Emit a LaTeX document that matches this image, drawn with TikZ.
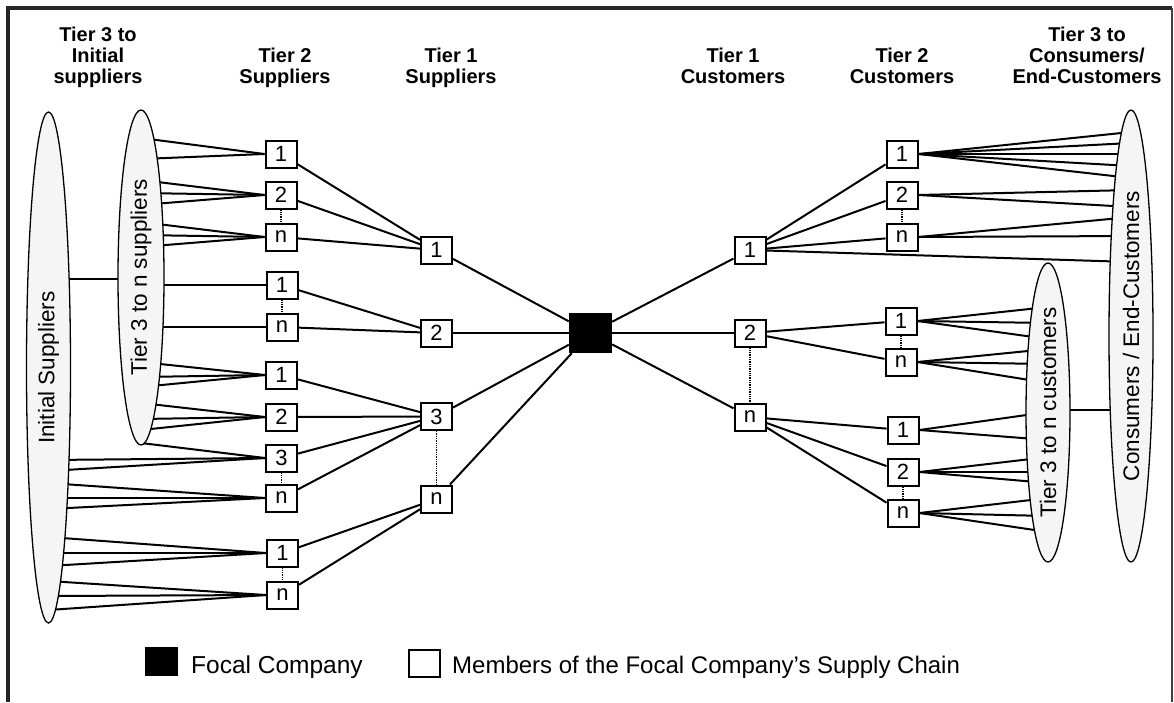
\documentclass[tikz,border=0pt]{standalone}
\usepackage{fontspec}
\setmainfont{Liberation Sans}
\usetikzlibrary{shapes.geometric,backgrounds}
\begin{document}
\begin{tikzpicture}[x=1pt,y=-1pt,
 box/.style={draw,line width=2pt,fill=white,minimum width=31pt,minimum height=27pt,inner sep=0pt,font=\fontsize{22}{22}\selectfont},
 focal/.style={fill=black,minimum width=43pt,minimum height=40pt,inner sep=0pt},
 ell/.style={ellipse,draw,line width=1.3pt,fill=black!4,inner sep=0pt,rotate=90,font=\fontsize{22.5}{24}\selectfont},
 link/.style={line width=2pt},
 dotlink/.style={line width=1.3pt,densely dotted},
 hdr/.style={anchor=north,align=center,inner sep=0pt,font=\fontsize{20}{21}\selectfont\bfseries},
 legendtext/.style={anchor=base west,inner sep=0pt,font=\fontsize{24.5}{24.5}\selectfont}]
\useasboundingbox (0,0) rectangle (1174,702);
% frame
\draw[line width=4pt,black!85] (8,702) -- (8,8) -- (1172,8);
\draw[line width=1.5pt,black!75] (1172,8) -- (1172,702);
% headers
\node[hdr] (h1) at (98,26.7) {Tier 3 to\\Initial\\suppliers};
\node[hdr] (h2) at (285,47.7) {Tier 2\\Suppliers};
\node[hdr] (h3) at (451,47.7) {Tier 1\\Suppliers};
\node[hdr] (h4) at (733,47.7) {Tier 1\\Customers};
\node[hdr] (h5) at (902,47.7) {Tier 2\\Customers};
\node[hdr] (h6) at (1087,26.7) {Tier 3 to\\Consumers/\\End-Customers};
% ellipses
\node[ell,minimum width=511pt,minimum height=44pt] (is) at (48.5,367.5) {Initial Suppliers};
\node[ell,minimum width=335pt,minimum height=46pt] (t3s) at (141,277.5) {Tier 3 to n suppliers};
\node[ell,minimum width=452pt,minimum height=44pt] (ce) at (1131,336) {Consumers / End-Customers};
\node[ell,minimum width=299pt,minimum height=44pt] (t3c) at (1048,412.5) {Tier 3 to n customers};
% tier 2 suppliers
\node[box] (s2a1) at (281,154) {1};
\node[box] (s2a2) at (281,195) {2};
\node[box] (s2an) at (281,237) {n};
\node[box] (s2b1) at (282,285) {1};
\node[box] (s2bn) at (282,327) {n};
\node[box] (s2c1) at (281.5,375) {1};
\node[box] (s2c2) at (281.5,417) {2};
\node[box] (s2c3) at (281.5,458) {3};
\node[box] (s2cn) at (281.5,498) {n};
\node[box] (s2d1) at (282.5,553) {1};
\node[box] (s2dn) at (282.5,595) {n};
% tier 1 suppliers
\node[box] (s1a) at (436.5,250) {1};
\node[box] (s1b) at (436.5,333) {2};
\node[box] (s1c) at (436.5,416.5) {3};
\node[box] (s1n) at (436.5,499) {n};
% focal
\node[focal] (f) at (590.5,333) {};
% tier 1 customers
\node[box] (c1a) at (750,250) {1};
\node[box] (c1b) at (750,333) {2};
\node[box] (c1n) at (750,417) {n};
% tier 2 customers
\node[box] (c2a1) at (902,154) {1};
\node[box] (c2a2) at (902,195) {2};
\node[box] (c2an) at (902,237) {n};
\node[box] (c2b1) at (901,321) {1};
\node[box] (c2bn) at (901,362) {n};
\node[box] (c2c1) at (903,430) {1};
\node[box] (c2c2) at (903,472) {2};
\node[box] (c2cn) at (903,513) {n};
% dotted
\foreach \a/\b in {s2a2/s2an,s2b1/s2bn,s2c3/s2cn,s2d1/s2dn,s1c/s1n,c1b/c1n,c2a2/c2an,c2b1/c2bn,c2c2/c2cn}
  \draw[dotlink] (\a.south) -- (\b.north);
% legend
\node[fill=black,minimum width=33pt,minimum height=29pt,inner sep=0pt] (lf) at (161.5,661.5) {};
\node[legendtext] (lft) at (191,673) {Focal Company};
\node[draw,line width=2pt,minimum width=31pt,minimum height=27pt,inner sep=0pt] (lm) at (424,663) {};
\node[legendtext,font=\fontsize{24}{24}\selectfont] (lmt) at (452,673) {Members of the Focal Company’s Supply Chain};
% connectors
\begin{pgfonlayer}{background}
\foreach \y/\b in {138/s2a1,159/s2a1,180/s2a2,193/s2a2,205/s2a2,222/s2an,235/s2an,247/s2an,285/s2b1,327/s2bn,362/s2c1,377/s2c1,387/s2c1,403/s2c2,419/s2c2,430/s2c2,443/s2c3}
  \draw[link] (t3s.center |- 0,\y) -- (\b.west);
\foreach \y/\b in {460/s2c3,471/s2c3,483/s2cn,498/s2cn,509/s2cn,537/s2d1,553/s2d1,566/s2d1,581/s2dn,596/s2dn,610/s2dn}
  \draw[link] (is.center |- 0,\y) -- (\b.west);
\draw[link] (is.center |- 0,279) -- (t3s.center |- 0,279);
\foreach \a/\b in {s2a1/s1a,s2a2/s1a,s2an/s1a,s2b1/s1b,s2bn/s1b,s2c1/s1c,s2c2/s1c,s2c3/s1c,s2cn/s1c,s2d1/s1n,s2dn/s1n,s1a/f,s1b/f,s1c/f,s1n/f,f/c1a,f/c1b,f/c1n,c1a/c2a1,c1a/c2a2,c1a/c2an,c1b/c2b1,c1b/c2bn,c1n/c2c1,c1n/c2c2,c1n/c2cn}
  \draw[link] (\a) -- (\b);
\foreach \y/\b in {132/c2a1,143/c2a1,154/c2a1,166/c2a1,178/c2a1,190/c2a2,207/c2a2,217/c2an,236/c2an}
  \draw[link] (\b.east) -- (ce.center |- 0,\y);
\draw[link] (c1a) -- (ce.center |- 0,262);
\foreach \y/\b in {307/c2b1,323/c2b1,339/c2b1,349/c2bn,364/c2bn,383/c2bn,412/c2c1,440/c2c1,457/c2c2,472/c2c2,483/c2c2,498/c2cn,516/c2cn,532/c2cn}
  \draw[link] (\b.east) -- (t3c.center |- 0,\y);
\draw[link] (t3c.center |- 0,410) -- (ce.center |- 0,410);
\end{pgfonlayer}
\end{tikzpicture}
\end{document}
